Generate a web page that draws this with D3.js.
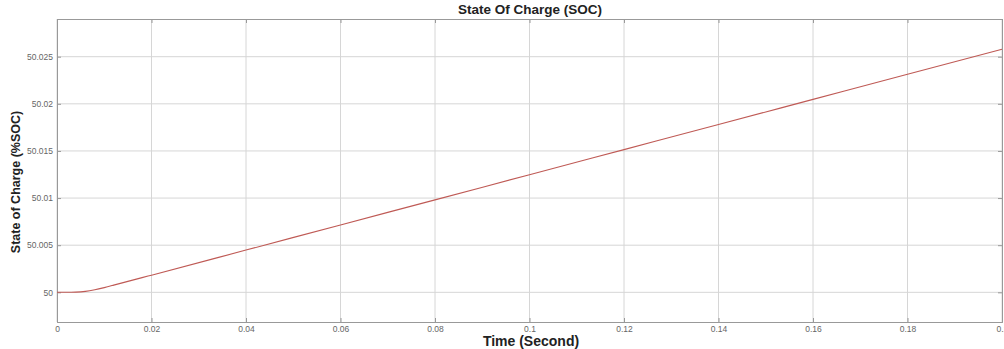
<!DOCTYPE html>
<html>
<head>
<meta charset="utf-8">
<script src="https://cdn.jsdelivr.net/npm/d3@7"></script>
<style>
  body { margin: 0; background: #fff; }
  text { font-family: "Liberation Sans", Arial, sans-serif; }
</style>
</head>
<body>
<div id="chart"></div>
<script>
// SOC curve
var timeVals = [0, 0.002, 0.004, 0.006, 0.008, 0.010, 0.012, 0.014, 0.016, 0.018, 0.020, 0.04, 0.06, 0.08, 0.10, 0.12, 0.14, 0.16, 0.18, 0.20];
var socVals = [50, 50, 50.00002, 50.0001, 50.00027, 50.0005, 50.00076, 50.00103, 50.00129, 50.00156, 50.00182, 50.00448, 50.00715, 50.00981, 50.01248, 50.01514, 50.0178, 50.02047, 50.02314, 50.0258];
var xTicks = [0, 0.02, 0.04, 0.06, 0.08, 0.1, 0.12, 0.14, 0.16, 0.18, 0.2];
var yTicks = [50, 50.005, 50.01, 50.015, 50.02, 50.025];
var yTickLabels = ["50", "50.005", "50.01", "50.015", "50.02", "50.025"];

var w = 1004, h = 349;
var margin = {top: 19, right: 2, bottom: 27, left: 57};
var width = w - margin.left - margin.right;
var height = h - margin.top - margin.bottom;

var svg = d3.select("#chart").append("svg")
    .attr("width", w)
    .attr("height", h);

var g = svg.append("g")
    .attr("transform", "translate(" + margin.left + "," + margin.top + ")");

var x = d3.scaleLinear().domain([0, 0.2]).range([0, width]);
var y = d3.scaleLinear().domain([49.99685, 50.0290]).range([height, 0]);

/* grid */
g.selectAll(".vgrid").data(xTicks).enter().append("line")
    .attr("x1", function (d) { return x(d); })
    .attr("x2", function (d) { return x(d); })
    .attr("y1", 0).attr("y2", height)
    .attr("stroke", "#d6d6d6").attr("stroke-width", 1);

g.selectAll(".hgrid").data(yTicks).enter().append("line")
    .attr("y1", function (d) { return y(d); })
    .attr("y2", function (d) { return y(d); })
    .attr("x1", 0).attr("x2", width)
    .attr("stroke", "#d6d6d6").attr("stroke-width", 1);

/* axes, ticks inward like matlab */
var xAxis = d3.axisBottom(x).tickValues(xTicks).tickSize(-4).tickPadding(4)
    .tickFormat(function (d) { return d === 0 ? "0" : String(+d.toFixed(2)); });
var yAxis = d3.axisLeft(y).tickValues(yTicks).tickSize(-4).tickPadding(4)
    .tickFormat(function (d, i) { return yTickLabels[i]; });

g.append("g").attr("transform", "translate(0," + height + ")").call(xAxis);
g.append("g").call(yAxis);
g.append("g").call(d3.axisTop(x).tickValues(xTicks).tickSize(-4).tickFormat(""));
g.append("g").attr("transform", "translate(" + width + ",0)")
    .call(d3.axisRight(y).tickValues(yTicks).tickSize(-4).tickFormat(""));

g.selectAll(".domain").attr("stroke", "#999");
g.selectAll(".tick line").attr("stroke", "#999");
g.selectAll(".tick text").attr("fill", "#666").style("font-size", "8.5px");

/* curve */
var pts = timeVals.map(function (t, i) { return {t: t, v: socVals[i]}; });
var line = d3.line()
    .x(function (d) { return x(d.t); })
    .y(function (d) { return y(d.v); })
    .curve(d3.curveMonotoneX);

g.append("path")
    .datum(pts)
    .attr("fill", "none")
    .attr("stroke", "#bf5a55")
    .attr("stroke-width", 1.1)
    .attr("d", line);

/* labels */
svg.append("text")
    .attr("x", 530).attr("y", 14)
    .attr("text-anchor", "middle")
    .style("font-size", "13.5px").style("font-weight", "bold")
    .attr("fill", "#222")
    .text("State Of Charge (SOC)");

svg.append("text")
    .attr("x", 531).attr("y", 346)
    .attr("text-anchor", "middle")
    .style("font-size", "14px").style("font-weight", "bold")
    .attr("fill", "#222")
    .text("Time (Second)");

svg.append("text")
    .attr("transform", "translate(20,182) rotate(-90)")
    .attr("text-anchor", "middle")
    .style("font-size", "12.5px").style("font-weight", "bold")
    .attr("fill", "#222")
    .text("State of Charge (%SOC)");
</script>
</body>
</html>
